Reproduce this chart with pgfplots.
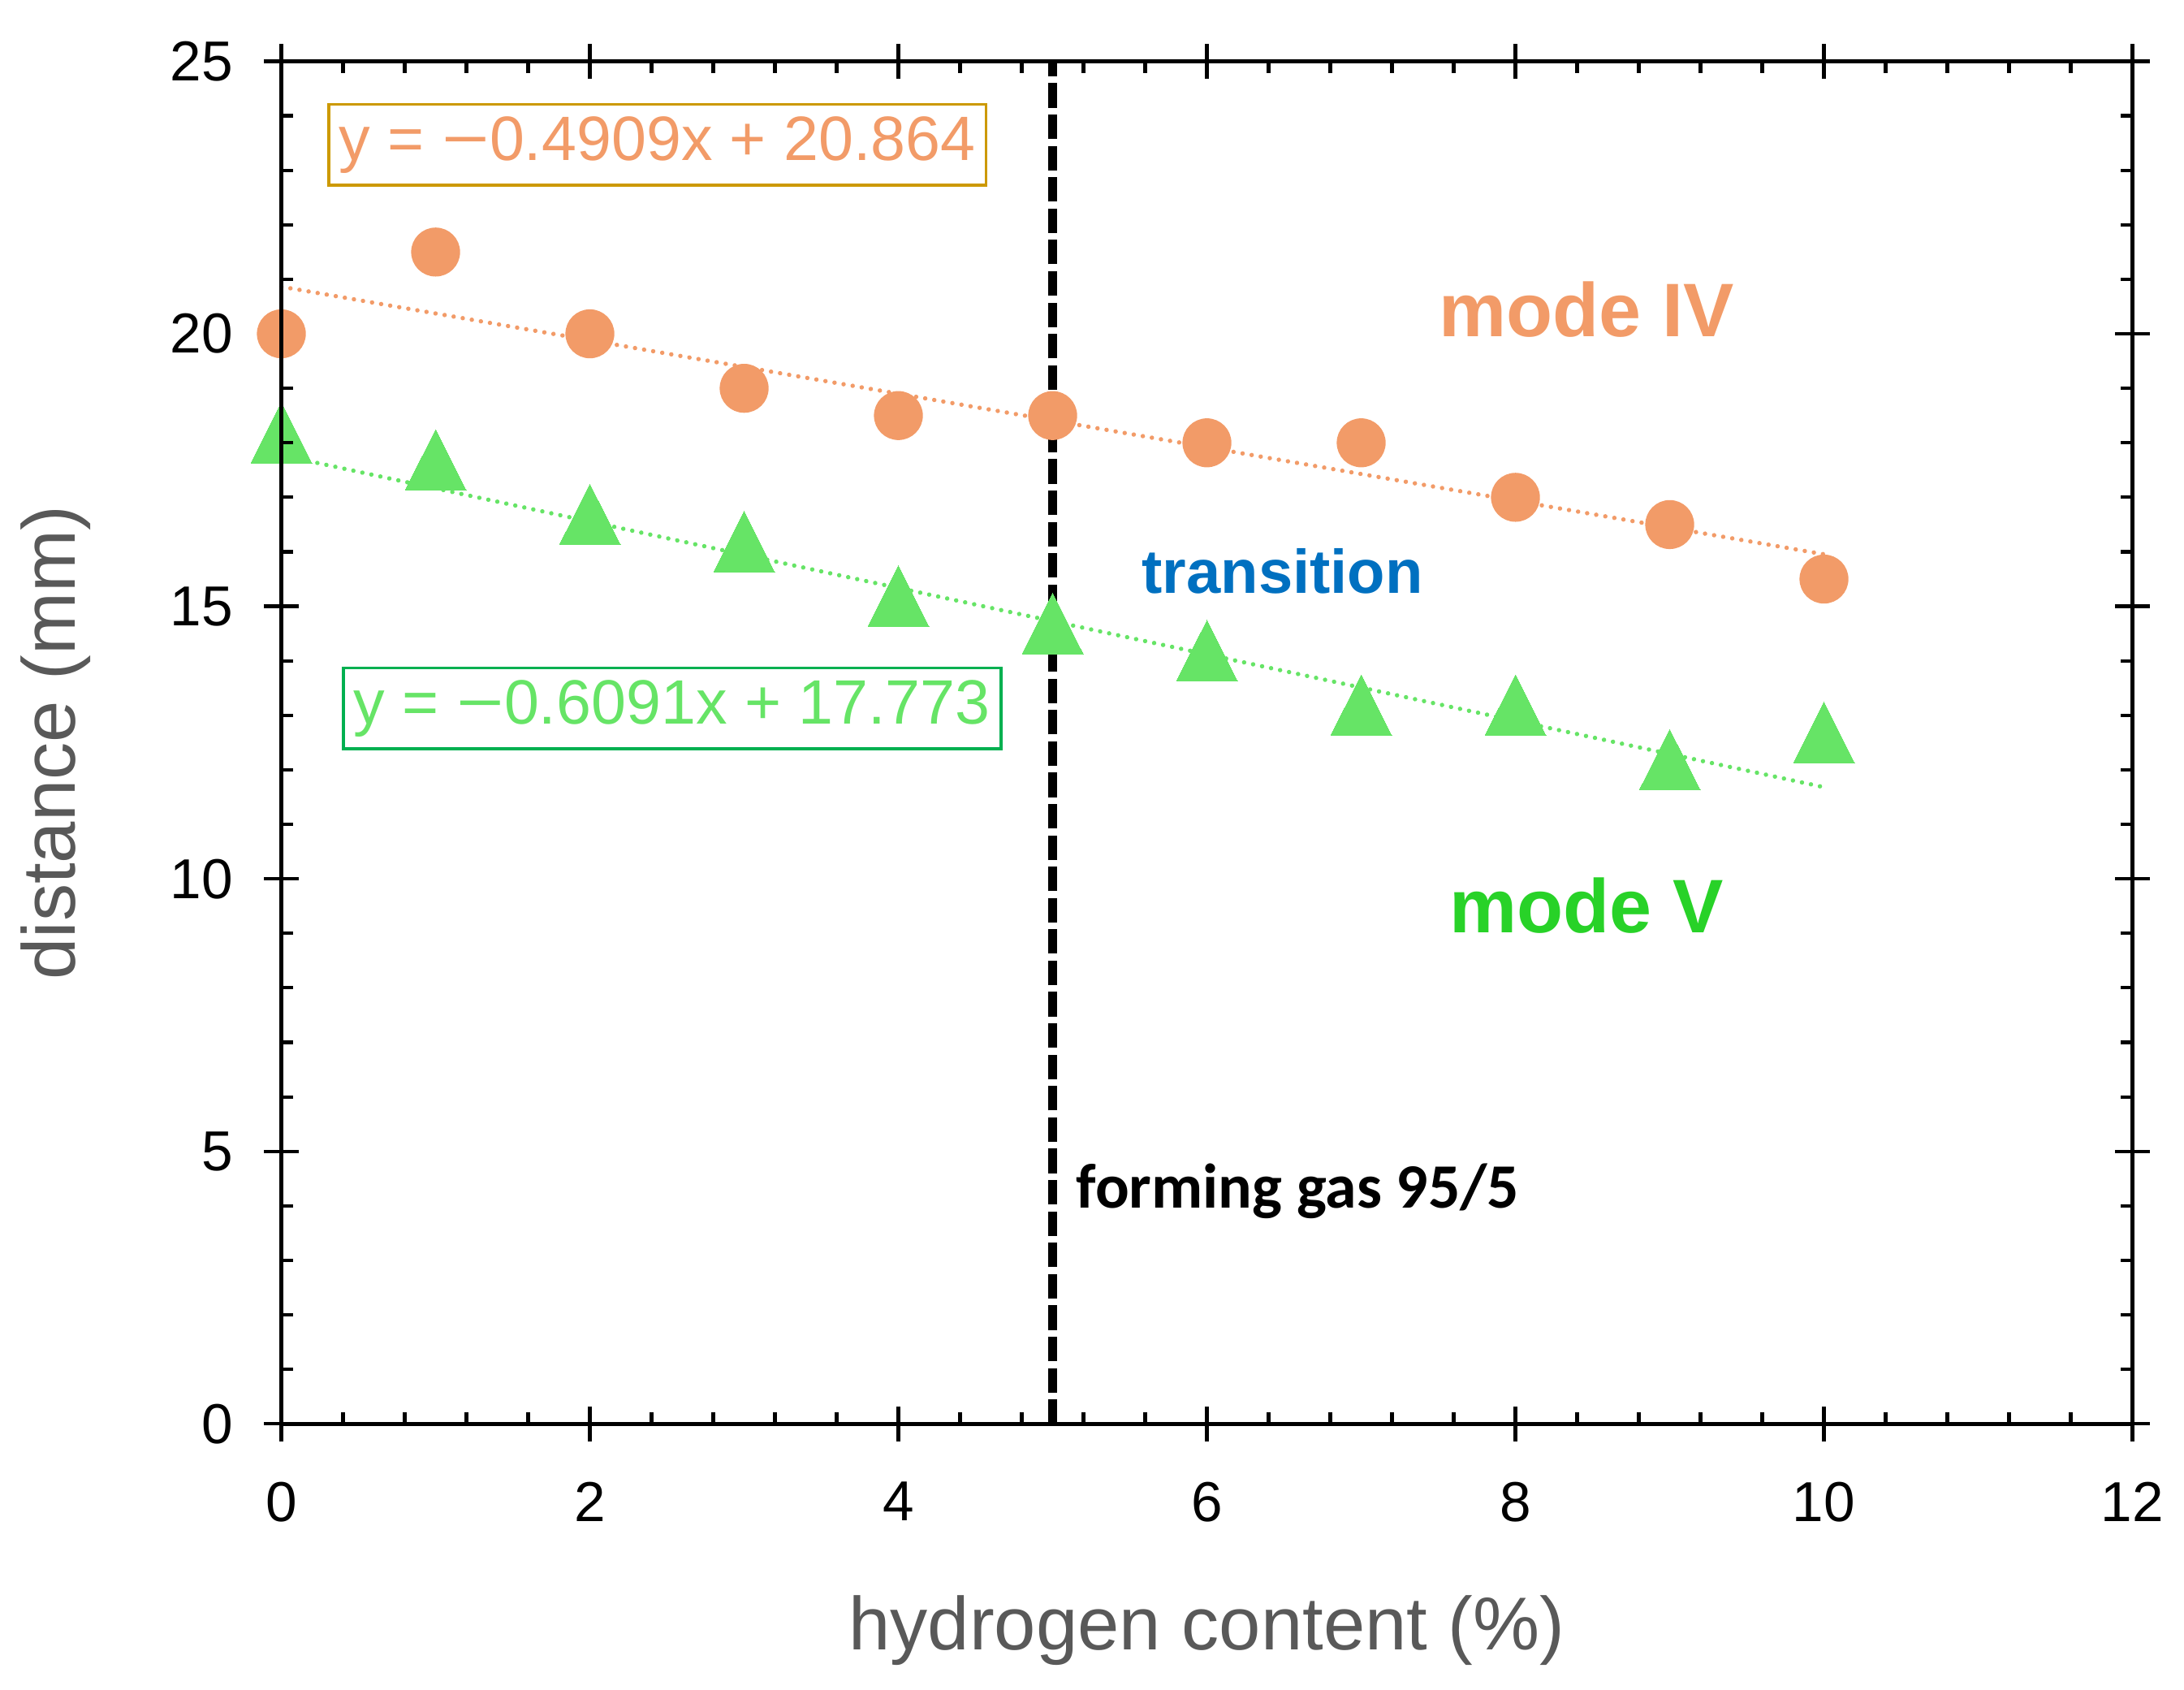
\documentclass[border=0pt]{standalone}
\usepackage{fontspec}
\setmainfont{Liberation Sans}
\newfontfamily\calibri{Carlito}
\usepackage{graphicx}
\usepackage{pgfplots}
\pgfplotsset{compat=1.18}
\definecolor{orangeM}{RGB}{242,155,104}
\definecolor{greenM}{RGB}{102,228,102}
\definecolor{greenT}{RGB}{40,210,40}
\definecolor{blueT}{RGB}{0,112,192}
\definecolor{goldB}{RGB}{204,153,0}
\definecolor{greenB}{RGB}{0,176,80}
\definecolor{labgray}{RGB}{89,89,89}
\newcommand{\lmin}{\scalebox{1.3}[1]{−}}
\begin{document}
\begin{tikzpicture}
\useasboundingbox (-2.02,-1.91) rectangle (13.66,10.22);
\begin{axis}[
  width=13.29cm, height=9.78cm, scale only axis,
  xmin=0, xmax=12, ymin=0, ymax=25,
  xtick={0,2,...,12}, ytick={0,5,...,25},
  tick align=center, major tick length=0.25cm,
  axis line style={line width=0.75pt},
  every tick/.style={black, line width=0.7pt},
  tick label style={font=\fontsize{11.5}{13}\selectfont},
  xticklabel style={yshift=-0.17cm},
  yticklabel style={xshift=-0.1cm},
  /pgf/number format/assume math mode=true,
  xlabel={hydrogen content (\%)}, ylabel={distance (mm)},
  every axis x label/.style={at={(axis description cs:0.5,-0.1513)},anchor=center,font=\fontsize{15.3}{18}\selectfont, text=labgray},
  every axis y label/.style={at={(axis description cs:-0.1219,0.5)},anchor=center,rotate=90,font=\fontsize{15.3}{18}\selectfont, text=labgray},
  clip=false,
]
\addplot[orangeM, line width=0.9pt, line cap=round, dash pattern=on 0.01pt off 1.87pt] coordinates {(0,20.864) (10,15.955)};
\addplot[greenM, line width=0.9pt, line cap=round, dash pattern=on 0.01pt off 1.87pt] coordinates {(0,17.773) (10,11.682)};
\addplot[only marks, mark=*, mark size=4.8pt, mark options={fill=orangeM, draw=orangeM}] coordinates {
(0,20) (1,21.5) (2,20) (3,19) (4,18.5) (5,18.5) (6,18) (7,18) (8,17) (9,16.5) (10,15.5)};
\addplot[only marks, mark=triangle*, mark size=0.29cm, mark options={fill=greenM, draw=greenM, line width=0pt, xscale=0.87}] coordinates {
(0,18) (1,17.5) (2,16.5) (3,16) (4,15) (5,14.5) (6,14) (7,13) (8,13) (9,12) (10,12.5)};
\addplot[black, line width=1.8pt, dash pattern=on 5pt off 1.4pt] coordinates {(5,0) (5,25)};
\node[draw=goldB, line width=0.6pt, text=orangeM, font=\fontsize{12.8}{15}\selectfont, minimum width=4.72cm, minimum height=0.58cm, inner sep=0pt] at (axis cs:2.438,23.47) {y = \lmin0.4909x + 20.864};
\node[draw=greenB, line width=0.6pt, text=greenM, font=\fontsize{12.8}{15}\selectfont, minimum width=4.72cm, minimum height=0.58cm, inner sep=0pt] at (axis cs:2.533,13.13) {y = \lmin0.6091x + 17.773};
\node[text=orangeM, font=\bfseries\fontsize{15.5}{18}\selectfont] at (axis cs:8.46,20.45) {mode IV};
\node[text=greenT, font=\bfseries\fontsize{15.5}{18}\selectfont] at (axis cs:8.46,9.51) {mode V};
\node[text=blueT, font=\bfseries\fontsize{12.6}{15}\selectfont] at (axis cs:6.49,15.64) {transition};
\node[anchor=west, inner sep=0pt, font=\calibri\bfseries\fontsize{12.9}{16}\selectfont] at (axis cs:5.147,4.27) {forming gas 95/5};
\end{axis}
\begin{axis}[
  width=13.29cm, height=9.78cm, scale only axis,
  xmin=0, xmax=12, ymin=0, ymax=25,
  xtick={0,2,...,12}, ytick={0,5,...,25},
  minor x tick num=4, minor y tick num=4,
  tick align=inside, major tick length=0pt, minor tick length=0.085cm,
  xticklabels={}, yticklabels={},
  axis line style={line width=0.75pt},
  every tick/.style={black, line width=0.7pt},
]
\end{axis}
\end{tikzpicture}
\end{document}
